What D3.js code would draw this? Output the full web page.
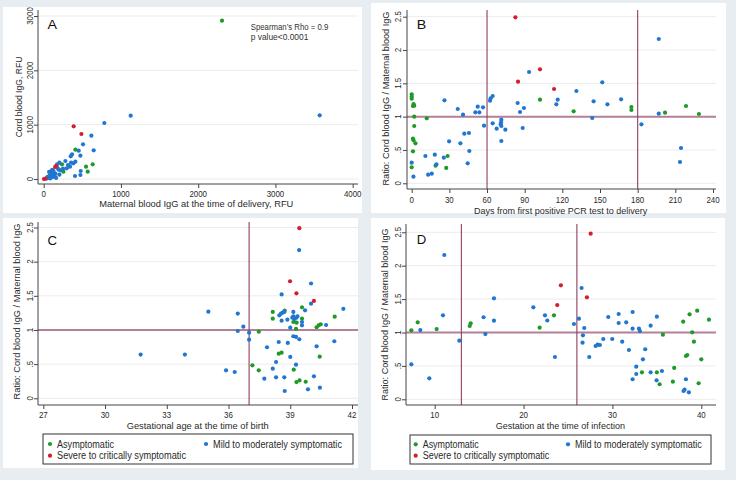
<!DOCTYPE html>
<html><head><meta charset="utf-8">
<script src="https://cdn.jsdelivr.net/npm/d3@7"></script>
<style>
body{margin:0;background:#e8edf2;}
svg{display:block;font-family:"Liberation Sans",Arial,sans-serif;}
</style>
</head><body>
<svg id="chart" width="736" height="480"></svg>
<script>
// ---------- DATA ----------
const groupNames = ["Asymptomatic", "Mild to moderately symptomatic", "Severe to critically symptomatic"];
const groupColors = ["#1f9a27", "#2176d2", "#d21f2b"];

// Panel A: maternal IgG (RFU) vs cord blood IgG (RFU)
const aAsym = [[2308,2914],[410,540],[237,270],[634,270],[548,227],[570,135],[255,135]];
const aMild = [[1126,1165],[3573,1172],[785,1031],[617,797],[509,638],[647,528],[453,521],[475,429],[367,454],[350,418],
  [410,318],[384,289],[354,300],[281,331],[315,258],[341,227],[298,197],[479,147],[475,74],[405,55],[203,300],[173,270],
  [194,172],[203,79],[138,92],[60,20],[75,60],[90,110],[100,140],[110,80],[120,40],[85,10],[130,120],[150,100],[50,40],
  [70,130],[110,170],[140,60],[95,30],[160,20],[40,10],[125,150],[180,200],[220,160],[250,190]];
const aSevere = [[388,970],[488,828],[160,239],[147,221],[22,6],[4,0]];

// Panel B: days from first positive PCR to delivery vs ratio
const bAsym = [[0,1.335],[0,1.30],[0,1.27],[1.5,1.19],[2,1.165],[1,1.16],[2,1.0],[2,0.86],[12,0.975],[1,0.67],[1.5,0.645],
  [3,0.60],[1,0.48],[0,0.24],[19,0.265],[28.6,0.41],[27.5,0.23],[102.2,1.255],[129,1.08],[175,1.145],[175,1.10],
  [201.8,1.06],[218.5,1.16],[228.8,1.04]];
const bMild = [[0,0.31],[1.4,0.10],[10.9,0.41],[13.1,0.13],[16,0.145],[18.4,0.43],[19.7,0.285],[25.6,0.385],[26.1,1.245],
  [29.8,0.63],[36.7,1.115],[38.8,0.60],[40.9,1.03],[41.9,0.745],[45.6,0.755],[44.6,0.30],[45.9,0.485],[50.7,1.065],
  [52.6,1.15],[53.9,1.065],[56.8,1.14],[57.6,0.865],[62.4,1.24],[62.9,1.275],[64.5,1.31],[64.5,0.90],[67.7,0.82],
  [70.9,0.885],[71.2,0.915],[71.4,0.955],[71.4,0.86],[71.4,0.635],[74.6,0.805],[84.4,1.205],[86.3,1.07],[88.4,0.83],
  [89.4,1.13],[93.5,1.67],[115.2,1.185],[116.3,1.255],[131.2,1.385],[143.8,0.98],[144.9,1.23],[151.8,1.515],
  [155.9,1.185],[166.8,1.26],[183,0.885],[196.8,2.165],[196.8,1.045],[213.7,0.32],[214.5,0.53]];
const bSevere = [[82.6,2.49],[84.7,1.525],[102.2,1.71],[113.4,1.415]];

// Panel C: gestational age at birth vs ratio
const cAsym = [[38.15,1.264],[38.15,1.166],[38.73,1.283],[39.57,1.332],[39.15,1.117],[39.31,1.107],[39.57,1.166],
  [39.28,1.015],[41.16,1.195],[40.28,1.04],[40.38,1.068],[40.48,1.083],[37.47,0.975],[38.44,0.653],[38.58,0.668],
  [40.43,0.609],[37.16,0.483],[37.47,0.41],[39.17,0.419],[39.3,0.237],[39.45,0.262],[39.75,0.242]];
const cMild = [[39.43,2.17],[40.01,1.68],[38.58,1.52],[40.01,1.385],[41.58,1.31],[35.02,1.268],[36.45,1.24],[38.47,1.215],
  [38.55,1.24],[38.63,1.253],[38.71,1.264],[39.72,1.288],[39.15,1.264],[39.15,1.2],[39.3,1.18],[39.2,1.16],[39.1,1.18],
  [39.35,1.2],[38.86,1.151],[38.58,1.136],[39.57,1.117],[39.57,1.068],[39.0,1.034],[40.74,1.073],[36.72,1.048],
  [36.45,0.985],[37.0,0.96],[37.0,0.858],[39.15,0.908],[39.28,0.898],[39.44,0.864],[38.44,0.824],[38.88,0.81],
  [37.87,0.747],[40.28,0.761],[41.14,0.835],[39.0,0.605],[38.31,0.531],[39.28,0.492],[35.88,0.41],[36.3,0.385],
  [38.15,0.434],[37.74,0.287],[38.31,0.307],[38.71,0.307],[40.15,0.322],[39.86,0.132],[40.44,0.155],[38.73,0.107],
  [31.73,0.64],[33.88,0.64]];
const cSevere = [[39.44,2.49],[38.99,1.713],[39.3,1.537],[40.15,1.425]];

// Panel D: gestation at time of infection vs ratio
const dAsym = [[7.37,1.033],[8.09,1.153],[10.22,1.052],[13.94,1.097],[14.05,1.138],[21.81,1.072],[23.42,1.257],
  [33.32,0.404],[35.0,0.404],[35.31,0.225],[35.68,0.967],[36.95,0.469],[36.8,0.264],[37.96,1.162],[38.68,1.272],
  [39.54,1.326],[40.86,1.192],[38.98,1.003],[39.17,0.862],[38.27,0.648],[38.42,0.663],[40.0,0.599],[39.7,0.24]];
const dMild = [[11.08,2.16],[7.37,0.524],[8.38,1.037],[10.93,1.257],[9.39,0.314],[12.77,0.877],[15.5,1.228],[15.7,0.977],
  [16.67,1.512],[16.67,1.177],[21.1,1.377],[22.41,1.257],[22.67,1.18],[23.53,0.633],[26.53,1.666],[25.67,1.127],
  [26.23,1.207],[26.83,1.067],[26.68,0.958],[26.64,0.847],[27.39,0.633],[28.11,0.798],[28.33,0.818],[28.59,0.813],
  [28.97,0.903],[29.98,0.903],[29.53,1.232],[30.7,1.277],[30.7,1.142],[31.1,0.862],[31.55,1.153],[31.86,0.738],
  [32.27,1.307],[32.27,1.057],[32.98,1.057],[33.09,1.022],[33.69,0.749],[33.43,0.599],[32.68,0.488],[32.68,0.379],
  [32.27,0.3],[34.3,1.102],[35.0,1.237],[34.3,0.404],[35.57,0.424],[34.97,0.284],[38.27,0.3],[38.12,0.144],
  [38.0,0.124],[38.6,0.105]];
const dSevere = [[24.2,1.706],[27.55,2.48],[27.13,1.527],[23.79,1.41]];

// Tick values
const aXTicks = [0,1000,2000,3000,4000];
const aYTicks = [0,1000,2000,3000];
const bXTicks = [0,30,60,90,120,150,180,210,240];
const ratioTicks = [0,0.5,1,1.5,2,2.5];
const cXTicks = [27,30,33,36,39,42];
const dXTicks = [10,20,30,40];

// ---------- DRAW ----------
const svg = d3.select("#chart");
const ratioFmt = v => v === 0 ? "0" : String(v).replace(/^0\./, ".");

function T(g, str, x, y, o = {}) {
  const size = o.size || 10, anchor = o.anchor || "middle";
  const t = g.append("text").text(str).attr("font-size", size)
    .attr("fill", o.color || "#2a2a2a").attr("text-anchor", anchor);
  if (o.rotate) t.attr("transform", `translate(${x},${y}) rotate(-90)`);
  else t.attr("x", x).attr("y", y);
  const L = o.len || t.node().getComputedTextLength() * (o.squeeze || 0.88);
  t.attr("textLength", L).attr("lengthAdjust", "spacingAndGlyphs");
  return t;
}

function panel(cfg) {
  const g = svg.append("g");
  const p = cfg.plot;
  g.append("rect").attr("x", cfg.bg[0]).attr("y", cfg.bg[1])
    .attr("width", cfg.bg[2] - cfg.bg[0]).attr("height", cfg.bg[3] - cfg.bg[1]).attr("fill", "#ffffff");
  const x = d3.scaleLinear().domain(cfg.xDom).range(cfg.xRange);
  const y = d3.scaleLinear().domain(cfg.yDom).range(cfg.yRange);

  // gridlines
  g.append("g").selectAll("line").data(cfg.yTicks).join("line")
    .attr("x1", p.x0).attr("x2", p.x1).attr("y1", d => y(d)).attr("y2", d => y(d))
    .attr("stroke", "#ececec").attr("stroke-width", 1);

  // reference lines
  if (cfg.refY !== undefined) {
    g.append("line").attr("x1", p.x0).attr("x2", p.x1).attr("y1", y(cfg.refY)).attr("y2", y(cfg.refY))
      .attr("stroke", "#b47f97").attr("stroke-width", 2);
  }
  (cfg.refX || []).forEach(v => {
    g.append("line").attr("x1", x(v)).attr("x2", x(v)).attr("y1", p.y0).attr("y2", p.y1)
      .attr("stroke", "#8e3d62").attr("stroke-width", 1.1);
  });

  // axes lines
  g.append("line").attr("x1", p.x0).attr("x2", p.x0).attr("y1", p.y0).attr("y2", p.y1)
    .attr("stroke", "#444").attr("stroke-width", 1);
  g.append("line").attr("x1", p.x0).attr("x2", p.x1).attr("y1", p.y1).attr("y2", p.y1)
    .attr("stroke", "#444").attr("stroke-width", 1);

  const xa = g.append("g").attr("transform", `translate(0,${p.y1})`)
    .call(d3.axisBottom(x).tickValues(cfg.xTicks).tickSize(4).tickFormat(""));
  const ya = g.append("g").attr("transform", `translate(${p.x0},0)`)
    .call(d3.axisLeft(y).tickValues(cfg.yTicks).tickSize(4).tickFormat(""));
  [xa, ya].forEach(a => { a.select(".domain").remove(); a.selectAll("line").attr("stroke", "#444"); });

  cfg.xTicks.forEach(v => T(g, cfg.xFmt(v), x(v), cfg.xLabY, {size: 9}));
  cfg.yTicks.forEach(v => T(g, cfg.yFmt(v), cfg.yLabX, y(v), {size: 9, rotate: true}));

  // points
  cfg.series.forEach((s, i) => {
    g.append("g").selectAll("circle").data(s).join("circle")
      .attr("cx", d => x(d[0])).attr("cy", d => y(d[1])).attr("r", 2.1)
      .attr("fill", groupColors[i]);
  });

  // titles
  T(g, cfg.xTitle[0], cfg.xTitle[1], cfg.xTitle[2], {size: 9.5, len: cfg.xTitle[3]});
  T(g, cfg.yTitle[0], cfg.yTitle[1], cfg.yTitle[2], {size: 9.8, len: cfg.yTitle[3], rotate: true});
  T(g, cfg.letter[0], cfg.letter[1], cfg.letter[2], {size: 13, anchor: "start", len: 9.5, color: "#111"});

  if (cfg.legend) {
    const L = cfg.legend;
    g.append("rect").attr("x", L.x0).attr("y", L.y0).attr("width", L.x1 - L.x0).attr("height", L.y1 - L.y0)
      .attr("fill", "#fff").attr("stroke", "#333").attr("stroke-width", 1);
    const pos = [[L.c1, L.r1], [L.c2, L.r1], [L.c1, L.r2]];
    groupNames.forEach((n, i) => {
      g.append("circle").attr("cx", pos[i][0]).attr("cy", pos[i][1]).attr("r", 2.1).attr("fill", groupColors[i]);
      T(g, n, pos[i][0] + 7, pos[i][1] + 3.6, {size: 10, anchor: "start", len: L.lens[i]});
    });
  }
  return g;
}

const gA = panel({
  bg: [3, 7, 362, 213], plot: {x0: 38, x1: 358, y0: 10, y1: 184},
  xDom: [0, 4000], xRange: [43.7, 352.7], yDom: [0, 3000], yRange: [179, 16],
  xTicks: aXTicks, yTicks: aYTicks, xFmt: String, yFmt: String, xLabY: 197.2, yLabX: 33.2,
  series: [aAsym, aMild, aSevere],
  xTitle: ["Maternal blood IgG at the time of delivery, RFU", 196.3, 207, 194],
  yTitle: ["Cord blood IgG, RFU", 21.6, 97, 80.7],
  letter: ["A", 47.5, 29]
});
T(gA, "Spearman\u2019s Rho = 0.9", 250.7, 29.5, {size: 8.5, anchor: "start", len: 77.6, color: "#333"});
T(gA, "p value<0.0001", 250.7, 39.6, {size: 8.5, anchor: "start", len: 57.7, color: "#333"});

panel({
  bg: [371, 3, 726, 213], plot: {x0: 407, x1: 716, y0: 10, y1: 189},
  xDom: [0, 240], xRange: [411.7, 713], yDom: [0, 2.5], yRange: [183.3, 16.7],
  xTicks: bXTicks, yTicks: ratioTicks, xFmt: String, yFmt: ratioFmt, xLabY: 203.4, yLabX: 401.2,
  series: [bAsym, bMild, bSevere], refX: [60, 180], refY: 1,
  xTitle: ["Days from first positive PCR test to delivery", 560.7, 213.6, 173.3],
  yTitle: ["Ratio: Cord blood IgG / Maternal blood IgG", 389, 98.5, 174],
  letter: ["B", 416.8, 29]
});

panel({
  bg: [3, 218, 358, 468], plot: {x0: 38, x1: 358, y0: 222, y1: 405},
  xDom: [27, 42], xRange: [43.3, 352], yDom: [0, 2.5], yRange: [398.3, 227.5],
  xTicks: cXTicks, yTicks: ratioTicks, xFmt: String, yFmt: ratioFmt, xLabY: 418.3, yLabX: 32.6,
  series: [cAsym, cMild, cSevere], refX: [37], refY: 1,
  xTitle: ["Gestational age at the time of birth", 197.7, 428.6, 142],
  yTitle: ["Ratio: Cord blood IgG / Maternal blood IgG", 20.2, 311.5, 176],
  letter: ["C", 47.5, 245],
  legend: {x0: 43, y0: 434, x1: 353, y1: 464, c1: 50, c2: 206, r1: 444, r2: 455.7, lens: [57, 129, 129]}
});

panel({
  bg: [371, 218, 725, 470], plot: {x0: 406, x1: 716, y0: 224, y1: 405},
  xDom: [10, 40], xRange: [434.7, 701.3], yDom: [0, 2.5], yRange: [399.3, 232.3],
  xTicks: dXTicks, yTicks: ratioTicks, xFmt: String, yFmt: ratioFmt, xLabY: 418.3, yLabX: 400.7,
  series: [dAsym, dMild, dSevere], refX: [13, 26], refY: 1,
  xTitle: ["Gestation at the time of infection", 560.3, 428.8, 129.3],
  yTitle: ["Ratio: Cord blood IgG / Maternal blood IgG", 388, 314.5, 172],
  letter: ["D", 416.8, 243.5],
  legend: {x0: 410, y0: 435, x1: 711, y1: 464, c1: 415.7, c2: 568, r1: 444.3, r2: 455.7, lens: [56, 126.7, 126.7]}
});
</script>
</body></html>
